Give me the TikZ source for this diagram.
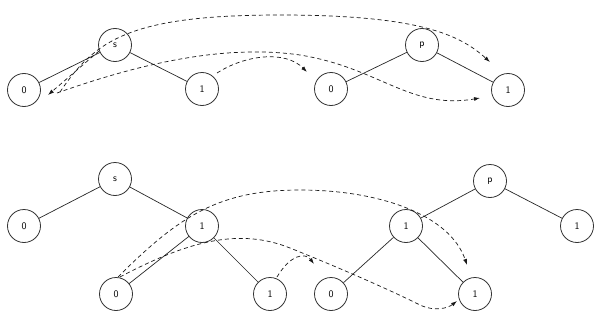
\documentclass[tikz,border=0pt]{standalone}
\usetikzlibrary{arrows.meta}
\begin{document}
\begin{tikzpicture}[x=1pt,y=-1pt,
  nd/.style={circle,draw=black!80,line width=0.8pt,minimum size=33pt,inner sep=0pt,font=\sffamily\fontsize{10}{10}\selectfont},
  edge/.style={draw=black!85,line width=0.7pt},
  dsh/.style={draw=black!90,line width=0.7pt,dash pattern=on 4pt off 3pt},
  arr/.style={-{Latex[length=6pt,width=4pt]}}]
\useasboundingbox (0,0) rectangle (600,324);
% top trees
\node[nd] (s1) at (115,45) {s};
\node[nd] (a0) at (24,90) {0};
\node[nd] (a1) at (202,89) {1};
\node[nd] (b0) at (331,89) {0};
\node[nd] (p1) at (422,45) {p};
\node[nd] (b1) at (508,90) {1};
\draw[edge] (s1) -- (a0);
\draw[edge] (s1) -- (a1);
\draw[edge] (p1) -- (b0);
\draw[edge] (p1) -- (b1);
% bottom tree
\node[nd] (s2) at (115,179) {s};
\node[nd] (c0) at (24,226) {0};
\node[nd] (c1) at (202,226) {1};
\node[nd] (c2) at (116,294) {0};
\node[nd] (c3) at (270,294) {1};
\node[nd] (p2) at (490,181) {p};
\node[nd] (d1) at (406,226) {1};
\node[nd] (d2) at (577,226) {1};
\node[nd] (d3) at (331,294) {0};
\node[nd] (d4) at (475,294) {1};
\draw[edge] (s2) -- (c0);
\draw[edge] (s2) -- (c1);
\draw[edge] (c1) -- (c2);
\draw[edge] (c1) -- (c3);
\draw[edge] (p2) -- (d1);
\draw[edge] (p2) -- (d2);
\draw[edge] (d1) -- (d3);
\draw[edge] (d1) -- (d4);
% connector end points
\coordinate (u1) at (99,51);
\coordinate (u2) at (48,95);
\coordinate (u3) at (60,92);
\coordinate (u4) at (490,62);
\coordinate (u5) at (57,93);
\coordinate (u6) at (480,98);
\coordinate (u7) at (217,73);
\coordinate (u8) at (307,72);
\coordinate (v1) at (118,277);
\coordinate (v2) at (467,265);
\coordinate (v3) at (120,277);
\coordinate (v4) at (457,301);
\coordinate (v5) at (277,277);
\coordinate (v6) at (314,264);
% top dashed
\draw[dsh,arr] (u1) -- (u2);
\draw[dsh,arr] (u3) .. controls (95,40) and (130,15) .. (280,15) .. controls (420,15) and (460,35) .. (u4);
\draw[dsh,arr] (u5) .. controls (150,60) and (230,45) .. (300,55) .. controls (380,68) and (410,110) .. (u6);
\draw[dsh,arr] (u7) .. controls (245,55) and (285,50) .. (u8);
% bottom dashed
\draw[dsh,arr] (v1) .. controls (180,215) and (220,190) .. (300,190) .. controls (380,190) and (450,215) .. (v2);
\draw[dsh,arr] (v3) .. controls (190,240) and (240,228) .. (290,248) .. controls (340,268) and (390,290) .. (420,305) .. controls (435,312) and (448,308) .. (v4);
\draw[dsh,arr] (v5) .. controls (290,255) and (305,252) .. (v6);
\end{tikzpicture}
\end{document}
